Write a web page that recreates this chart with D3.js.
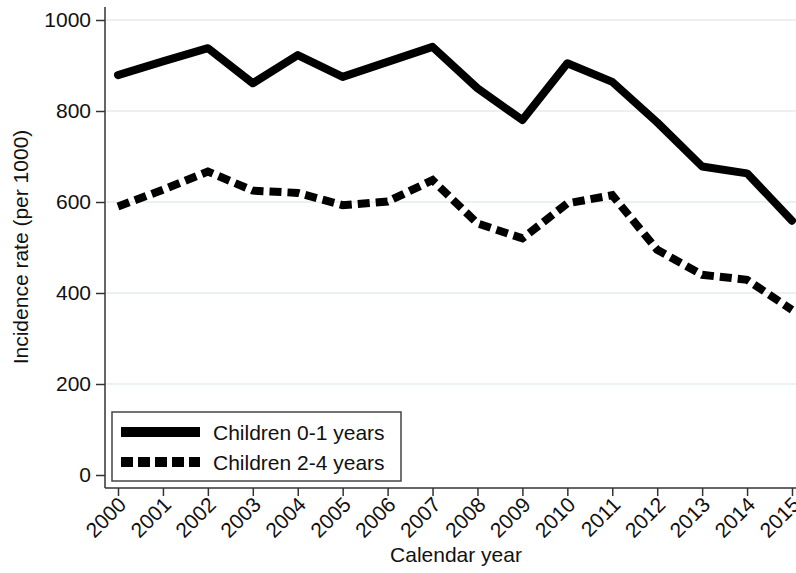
<!DOCTYPE html>
<html>
<head>
<meta charset="utf-8">
<style>
body { margin: 0; background: #fff; }
svg { font-family: "Liberation Sans", Arial, sans-serif; }
</style>
</head>
<body>
<script src="https://cdnjs.cloudflare.com/ajax/libs/d3/7.8.5/d3.min.js"></script>
<script>

var years = [2000, 2001, 2002, 2003, 2004, 2005, 2006, 2007, 2008, 2009, 2010, 2011, 2012, 2013, 2014, 2015];
var age01 = [879, 909, 938, 861, 923, 875, 908, 941, 850, 780, 905, 864, 775, 678, 663, 559];
var age24 = [590, 627, 667, 625, 620, 593, 601, 648, 553, 520, 597, 615, 495, 440, 429, 363];
var yTicks = [0, 200, 400, 600, 800, 1000];
var seriesNames = ["Children 0-1 years", "Children 2-4 years"];

var width = 796,
    height = 573;

var svg = d3.select("body").append("svg")
    .attr("width", width)
    .attr("height", height);

var x = d3.scaleLinear().domain([2000, 2015]).range([118, 792]);
var y = d3.scaleLinear().domain([0, 1000]).range([475, 20]);

// gridlines (none at zero)
svg.append("g").selectAll("line")
    .data(yTicks.filter(function(d) { return d > 0; }))
  .enter().append("line")
    .attr("x1", 106).attr("x2", 796)
    .attr("y1", y).attr("y2", y)
    .attr("stroke", "#e4ebef")
    .attr("stroke-width", 1.5);

// y axis
var yAxis = svg.append("g")
    .attr("transform", "translate(105,0)")
    .call(d3.axisLeft(y).tickValues(yTicks).tickFormat(d3.format("d")).tickSize(9).tickPadding(5));
yAxis.select(".domain").attr("d", "M0,7V488");

// x axis
var xAxis = svg.append("g")
    .attr("transform", "translate(0,488)")
    .call(d3.axisBottom(x).tickValues(years).tickFormat(d3.format("d")).tickSize(8));
xAxis.select(".domain").attr("d", "M105,0H796");
xAxis.selectAll("text")
    .attr("text-anchor", "end")
    .attr("dy", 0)
    .attr("transform", "translate(9,18) rotate(-45)")
    .attr("x", 0).attr("y", 0);

svg.selectAll(".domain").attr("stroke", "#333").attr("stroke-width", 1.5);
svg.selectAll(".tick line").attr("stroke", "#333").attr("stroke-width", 1.5);
svg.selectAll(".tick text").attr("font-size", 21).attr("fill", "#111")
    .style("font-family", "'Liberation Sans', Arial, sans-serif");

// axis titles
svg.append("text")
    .attr("transform", "translate(28,247) rotate(-90)")
    .attr("text-anchor", "middle")
    .attr("font-size", 21)
    .attr("fill", "#111")
    .text("Incidence rate (per 1000)");

svg.append("text")
    .attr("x", 456).attr("y", 562)
    .attr("text-anchor", "middle")
    .attr("font-size", 21)
    .attr("fill", "#111")
    .text("Calendar year");

// lines
var line = d3.line()
    .x(function(d, i) { return x(years[i]); })
    .y(function(d) { return y(d); });

svg.append("path")
    .datum(age24)
    .attr("d", line)
    .attr("fill", "none")
    .attr("stroke", "#000")
    .attr("stroke-width", 8)
    .attr("stroke-dasharray", "12,6");

svg.append("path")
    .datum(age01)
    .attr("d", line)
    .attr("fill", "none")
    .attr("stroke", "#000")
    .attr("stroke-width", 8)
    .attr("stroke-linejoin", "round")
    .attr("stroke-linecap", "round");

// legend
var legend = svg.append("g");
legend.append("rect")
    .attr("x", 112).attr("y", 412)
    .attr("width", 289).attr("height", 69)
    .attr("fill", "#fff")
    .attr("stroke", "#444")
    .attr("stroke-width", 1.5);

seriesNames.forEach(function(name, i) {
  var ly = 432 + i * 30;
  legend.append("line")
      .attr("x1", 121).attr("x2", 200)
      .attr("y1", ly).attr("y2", ly)
      .attr("stroke", "#000")
      .attr("stroke-width", 10)
      .attr("stroke-dasharray", i === 1 ? "12,5" : null);
  legend.append("text")
      .attr("x", 213).attr("y", ly + 7.5)
      .attr("font-size", 21)
      .attr("fill", "#111")
      .text(name);
});

</script>
</body>
</html>
